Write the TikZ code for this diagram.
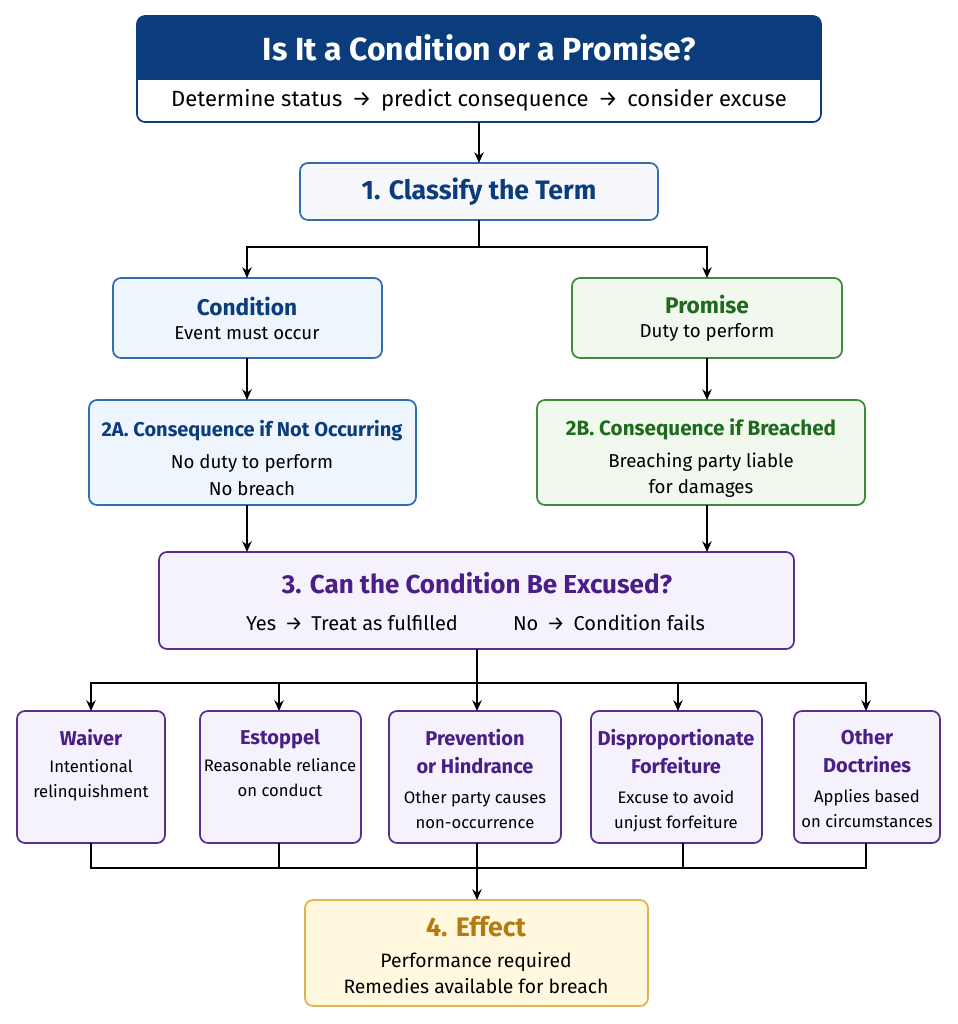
\documentclass[tikz,border=0pt]{standalone}
\usepackage{fontspec}
\setmainfont{Fira Sans}
\usetikzlibrary{arrows.meta}
\definecolor{navy}{HTML}{0B3D7D}
\definecolor{bluebd}{HTML}{2F6DB5}
\definecolor{bluefill}{HTML}{EEF5FD}
\definecolor{greenbd}{HTML}{3F8B3A}
\definecolor{greenfill}{HTML}{F1F8EE}
\definecolor{greentx}{HTML}{1F6B1D}
\definecolor{purpbd}{HTML}{5A2D91}
\definecolor{purpfill}{HTML}{F5F1FD}
\definecolor{purptx}{HTML}{4A1E86}
\definecolor{yelbd}{HTML}{E0B44A}
\definecolor{yelfill}{HTML}{FFF8DE}
\definecolor{yeltx}{HTML}{B57A10}
\definecolor{greyfill}{HTML}{F6F8FB}
\begin{document}
\begin{tikzpicture}[x=0.75pt,y=-0.75pt,
 box/.style={draw,rounded corners=6pt,line width=1.3pt},
 conn/.style={line width=1.5pt,black},
 arr/.style={conn,-{Stealth[length=8pt,width=7pt]}},
 txt/.style={align=center,font=\fontsize{14}{18}\selectfont},
 small/.style={align=center,anchor=north,font=\fontsize{12.5}{19}\selectfont},
 hd/.style={text=purptx,font=\bfseries\fontsize{15}{21}\selectfont}]
\useasboundingbox (0,0) rectangle (957,1024);
% title
\fill[navy,rounded corners=6pt] (137,16) rectangle (821,80);
\fill[navy] (137,60) rectangle (821,80);
\draw[box,draw=navy] (137,16) rectangle (821,122);
\node[text=white,font=\bfseries\fontsize{24}{27}\selectfont] (title) at (479,48) {Is It a Condition or a Promise?};
\node[txt,font=\fontsize{16.5}{20}\selectfont] (sub) at (479,100) {Determine status \,→\,\ predict consequence \,→\, consider excuse};
\coordinate (tb) at (479,122);
% classify
\draw[box,draw=bluebd,fill=greyfill] (300,163) rectangle (658,220);
\node[text=navy,font=\bfseries\fontsize{20}{22}\selectfont] (cl) at (479,192) {1. Classify the Term};
\coordinate (clt) at (479,163); \coordinate (clb) at (479,220);
% condition / promise
\draw[box,draw=bluebd,fill=bluefill] (113,278) rectangle (382,358);
\node[txt] (cond) at (247,318) {\textcolor{navy}{\bfseries\fontsize{17}{24}\selectfont Condition}\\Event must occur};
\draw[box,draw=greenbd,fill=greenfill] (572,278) rectangle (842,358);
\node[txt] (prom) at (707,318) {\textcolor{greentx}{\bfseries\fontsize{17}{24}\selectfont Promise}\\Duty to perform};
% 2A 2B
\draw[box,draw=bluebd,fill=bluefill] (89,400) rectangle (416,505);
\node[txt,font=\fontsize{14}{20}\selectfont] (a2) at (252,458) {\textcolor{navy}{\bfseries\fontsize{15}{22}\selectfont 2A. Consequence if Not Occurring}\\[4pt]No duty to perform\\No breach};
\draw[box,draw=greenbd,fill=greenfill] (537,400) rectangle (865,505);
\node[txt,font=\fontsize{14}{20}\selectfont] (b2) at (701,458) {\textcolor{greentx}{\bfseries\fontsize{15.5}{22}\selectfont 2B. Consequence if Breached}\\[4pt]Breaching party liable\\for damages};
% 3
\draw[box,draw=purpbd,fill=purpfill] (159,552) rectangle (794,649);
\node[text=purptx,font=\bfseries\fontsize{19.5}{22}\selectfont] (q3) at (477,583) {3. Can the Condition Be Excused?};
\node[txt,font=\fontsize{15}{18}\selectfont] (yes) at (352,623) {Yes \,→\, Treat as fulfilled};
\node[txt,font=\fontsize{15}{18}\selectfont] (no) at (609,623) {No \,→\, Condition fails};
% bottom row
\foreach \xa/\xb in {17/165,200/361,389/561,591/762,794/940}{
 \draw[box,draw=purpbd,fill=purpfill] (\xa,711) rectangle (\xb,843);
}
\node[small] (w) at (91,725) {\textcolor{purptx}{\bfseries\fontsize{15}{21}\selectfont Waiver}\\[1pt]Intentional\\relinquishment};
\node[small] (e) at (280,725) {\textcolor{purptx}{\bfseries\fontsize{15}{21}\selectfont Estoppel}\\[1pt]Reasonable reliance\\on conduct};
\node[small] (p) at (475,725) {\textcolor{purptx}{\bfseries\fontsize{15}{21}\selectfont Prevention}\\[2pt]\textcolor{purptx}{\bfseries\fontsize{15}{21}\selectfont or Hindrance}\\[3pt]Other party causes\\non-occurrence};
\node[small] (d) at (676,725) {\textcolor{purptx}{\bfseries\fontsize{15}{21}\selectfont Disproportionate}\\[2pt]\textcolor{purptx}{\bfseries\fontsize{15}{21}\selectfont Forfeiture}\\[3pt]Excuse to avoid\\unjust forfeiture};
\node[small] (o) at (867,725) {\textcolor{purptx}{\bfseries\fontsize{15}{21}\selectfont Other}\\[2pt]\textcolor{purptx}{\bfseries\fontsize{15}{21}\selectfont Doctrines}\\[3pt]Applies based\\on circumstances};
% effect
\draw[box,draw=yelbd,fill=yelfill] (305,900) rectangle (648,1006);
\node[txt,font=\fontsize{14.5}{20}\selectfont] (eff) at (476,955) {\textcolor{yeltx}{\bfseries\fontsize{20}{24}\selectfont 4. Effect}\\[3pt]Performance required\\Remedies available for breach};
% connectors
\draw[arr] (tb) -- (clt);
\draw[conn] (clb) -- (479,247) (247,247) -- (707,247);
\draw[arr] (247,246) -- (247,278);
\draw[arr] (707,246) -- (707,278);
\draw[arr] (247,358) -- (247,400);
\draw[arr] (707,358) -- (707,400);
\draw[arr] (247,505) -- (247,552);
\draw[arr] (707,505) -- (707,552);
\draw[conn] (477,649) -- (477,683) (91,683) -- (866,683);
\foreach \x in {91,279,477,678,866}{\draw[arr] (\x,682) -- (\x,711);}
\foreach \x in {91,279,683,866}{\draw[conn] (\x,843) -- (\x,869);}
\draw[conn] (91,868) -- (866,868);
\draw[arr] (477,843) -- (477,900);
\end{tikzpicture}
\end{document}
